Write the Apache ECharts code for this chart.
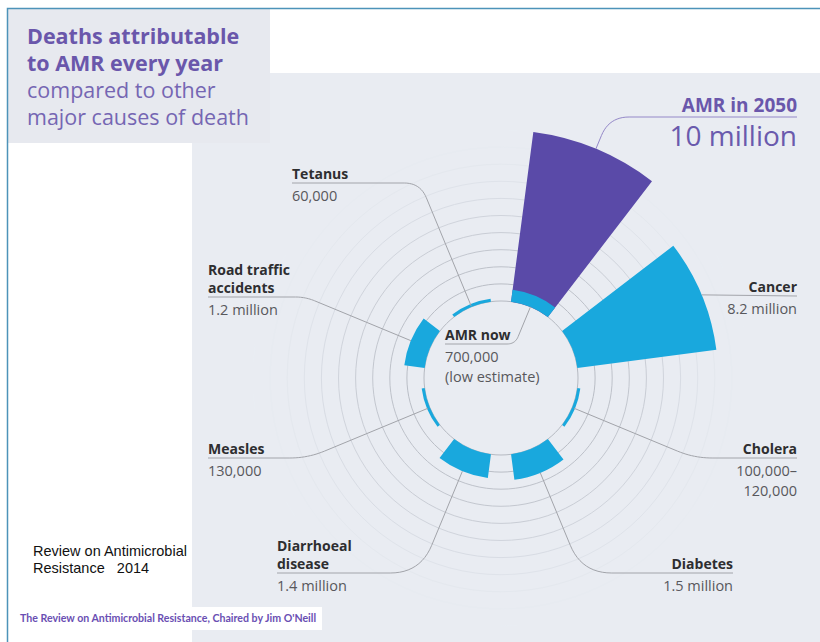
<!DOCTYPE html>
<html>
<head>
<meta charset="utf-8">
<script src="https://cdn.jsdelivr.net/npm/echarts@6/dist/echarts.min.js"></script>
<style>
  html, body { margin: 0; padding: 0; background: #ffffff; }
  #chart { width: 820px; height: 642px; }
</style>
</head>
<body>
<div id="chart"></div>
<script>
// ---- data ----
const categories = ['AMR', 'Cancer', 'Cholera', 'Diabetes', 'Diarrhoeal disease', 'Measles', 'Road traffic accidents', 'Tetanus'];
const deathsNow = [700000, 8200000, 110000, 1500000, 1400000, 130000, 1200000, 60000];
const deaths2050 = [10000000, null, null, null, null, null, null, null];
const nameLabels = ['AMR now', 'Cancer', 'Cholera', 'Diabetes', 'Diarrhoeal\ndisease', 'Measles', 'Road traffic\naccidents', 'Tetanus'];
const valueLabels = ['700,000\n(low estimate)', '8.2 million', '100,000–\n120,000', '1.5 million', '1.4 million', '130,000', '1.2 million', '60,000'];
const amr2050Name = 'AMR in 2050';
const amr2050Value = '10 million';
const titleBold = ['Deaths attributable', 'to AMR every year'];
const titleRegular = ['compared to other', 'major causes of death'];
const sourceLines = ['Review on Antimicrobial', 'Resistance   2014'];
const creditLine = "The Review on Antimicrobial Resistance, Chaired by Jim O'Neill";

// ---- layout / styles ----
const FONT = '"Open Sans", Lato, sans-serif';
const purple = '#5a4aa8';
const cyan = '#19a8dd';
const titlePurple = '#6a57ab';
const ringColors = ['#b6bac2', '#babec6', '#bec2ca', '#c3c7cf', '#c9cdd5', '#d0d4dc', '#d8dce4', '#dfe3ea', '#e4e8ee', '#e7ebf1', '#e9edf3'];

// leader layout: index into categories, value where it starts, label line y, end x, text x, align
const leaderLayout = [
  { idx: 0, val: 0,        lineY: 344, endX: 445, textX: 445, align: 'left',  r: 8 },
  { idx: 1, val: 8200000,  lineY: 296, endX: 797, textX: 797, align: 'right', r: 0 },
  { idx: 2, val: 110000,   lineY: 458, endX: 797, textX: 797, align: 'right', r: 18 },
  { idx: 3, val: 1500000,  lineY: 573, endX: 733, textX: 733, align: 'right', r: 30 },
  { idx: 4, val: 1400000,  lineY: 573, endX: 277, textX: 277, align: 'left',  r: 30 },
  { idx: 5, val: 130000,   lineY: 458, endX: 208, textX: 208, align: 'left',  r: 18 },
  { idx: 6, val: 1200000,  lineY: 297, endX: 208, textX: 208, align: 'left',  r: 10 },
  { idx: 7, val: 60000,    lineY: 183, endX: 292, textX: 292, align: 'left',  r: 16 }
];
const leader2050 = { idx: 0, val: 10000000, lineY: 117, endX: 797, textX: 797, align: 'right', r: 20 };

const chart = echarts.init(document.getElementById('chart'), null, { renderer: 'svg' });

const option = {
  animation: false,
  backgroundColor: 'transparent',
  polar: { center: [501, 378], radius: [77, 248] },
  angleAxis: {
    type: 'category',
    data: categories,
    startAngle: 90,
    clockwise: true,
    axisLine: { show: false },
    axisTick: { show: false },
    axisLabel: { show: false },
    splitLine: { show: false }
  },
  radiusAxis: {
    type: 'value',
    min: 0,
    max: 10000000,
    interval: 1000000,
    axisLine: { show: false },
    axisTick: { show: false },
    axisLabel: { show: false },
    splitLine: { show: true, lineStyle: { color: ringColors, width: 1 } }
  },
  series: [
    {
      type: 'bar', coordinateSystem: 'polar', name: 'AMR in 2050',
      data: deaths2050, barGap: '-100%', barCategoryGap: '33.3%',
      itemStyle: { color: purple }, z: 2
    },
    {
      type: 'bar', coordinateSystem: 'polar', name: 'Deaths now',
      data: deathsNow, barGap: '-100%', barCategoryGap: '33.3%', barMinHeight: 3,
      itemStyle: { color: cyan }, z: 3
    }
  ]
};
chart.setOption(option);

function pt(val, idx) {
  return chart.convertToPixel({ seriesIndex: 1 }, [val, idx]);
}

function leaderPoints(L) {
  const s = pt(L.val, L.idx);
  const c0 = pt(0, L.idx);
  const c1 = pt(10000000, L.idx);
  let dx = c1[0] - c0[0], dy = c1[1] - c0[1];
  const len = Math.hypot(dx, dy); dx /= len; dy /= len;
  const t = (L.lineY - s[1]) / dy;
  const corner = [s[0] + dx * t, L.lineY];
  const e = [L.endX, L.lineY];
  const d1 = Math.hypot(corner[0] - s[0], corner[1] - s[1]);
  const d2 = Math.abs(e[0] - corner[0]);
  const r = Math.min(L.r, d1 * 0.8, d2 * 0.8);
  if (r < 1 || d1 < 1) {
    return [s, e];
  }
  const a = [corner[0] + (s[0] - corner[0]) / d1 * r, corner[1] + (s[1] - corner[1]) / d1 * r];
  const b = [corner[0] + Math.sign(e[0] - corner[0]) * r, corner[1]];
  const pts = [s, a];
  const N = 12;
  for (let i = 1; i < N; i++) {
    const u = i / N;
    const x = (1 - u) * (1 - u) * a[0] + 2 * u * (1 - u) * corner[0] + u * u * b[0];
    const y = (1 - u) * (1 - u) * a[1] + 2 * u * (1 - u) * corner[1] + u * u * b[1];
    pts.push([x, y]);
  }
  pts.push(b, e);
  return pts;
}

const graphic = [];
// backgrounds
graphic.push({ type: 'rect', z: -20, silent: true, shape: { x: 192, y: 73, width: 628, height: 569 }, style: { fill: '#e9ecf2' } });
graphic.push({ type: 'rect', z: -19, silent: true, shape: { x: 8, y: 9, width: 262, height: 134 }, style: { fill: '#e7e9ef' } });
graphic.push({ type: 'rect', z: -18, silent: true, shape: { x: 12, y: 607, width: 310, height: 23 }, style: { fill: '#ffffff' } });
// border
graphic.push({ type: 'polyline', z: 10, silent: true, shape: { points: [[7.5, 642], [7.5, 8.5], [820, 8.5]] }, style: { stroke: '#4d93b9', lineWidth: 1.5, fill: 'none' } });

// title
titleBold.forEach((t, i) => graphic.push({ type: 'text', z: 10, style: { text: t, x: 27, y: 35 + i * 27, fill: titlePurple, font: `bold 21.5px ${FONT}`, verticalAlign: 'middle' } }));
titleRegular.forEach((t, i) => graphic.push({ type: 'text', z: 10, style: { text: t, x: 27, y: 89 + i * 27, fill: '#7566b3', font: `21.5px ${FONT}`, verticalAlign: 'middle' } }));

// source notes
sourceLines.forEach((t, i) => graphic.push({ type: 'text', z: 10, style: { text: t, x: 33, y: 551 + i * 17, fill: '#111', font: '14.5px "Liberation Sans", Arial, sans-serif', verticalAlign: 'middle' } }));
graphic.push({ type: 'text', z: 10, style: { text: creditLine, x: 20, y: 618, fill: '#6a4fb3', font: 'bold 10.6px Lato, sans-serif', verticalAlign: 'middle' } });

// leaders + labels
leaderLayout.forEach((L) => {
  graphic.push({ type: 'polyline', z: 5, silent: true, shape: { points: leaderPoints(L) }, style: { stroke: '#a2a4aa', lineWidth: 1, fill: 'none' } });
  graphic.push({ type: 'text', z: 10, style: { text: nameLabels[L.idx], x: L.textX, y: L.lineY - 1, fill: '#2e2e30', font: `bold 14px ${FONT}`, align: L.align, verticalAlign: 'bottom', lineHeight: 17.5 } });
  graphic.push({ type: 'text', z: 10, style: { text: valueLabels[L.idx], x: L.textX, y: L.lineY + 2, fill: '#58585c', font: `14.5px ${FONT}`, align: L.align, verticalAlign: 'top', lineHeight: 20 } });
});
graphic.push({ type: 'polyline', z: 5, silent: true, shape: { points: leaderPoints(leader2050) }, style: { stroke: '#9488c8', lineWidth: 1, fill: 'none' } });
graphic.push({ type: 'text', z: 10, style: { text: amr2050Name, x: 797, y: 114, fill: titlePurple, font: `bold 19px ${FONT}`, align: 'right', verticalAlign: 'bottom' } });
graphic.push({ type: 'text', z: 10, style: { text: amr2050Value, x: 797, y: 135, fill: '#6a5aad', font: `28px ${FONT}`, align: 'right', verticalAlign: 'middle' } });

chart.setOption({ graphic: graphic });
</script>
</body>
</html>
